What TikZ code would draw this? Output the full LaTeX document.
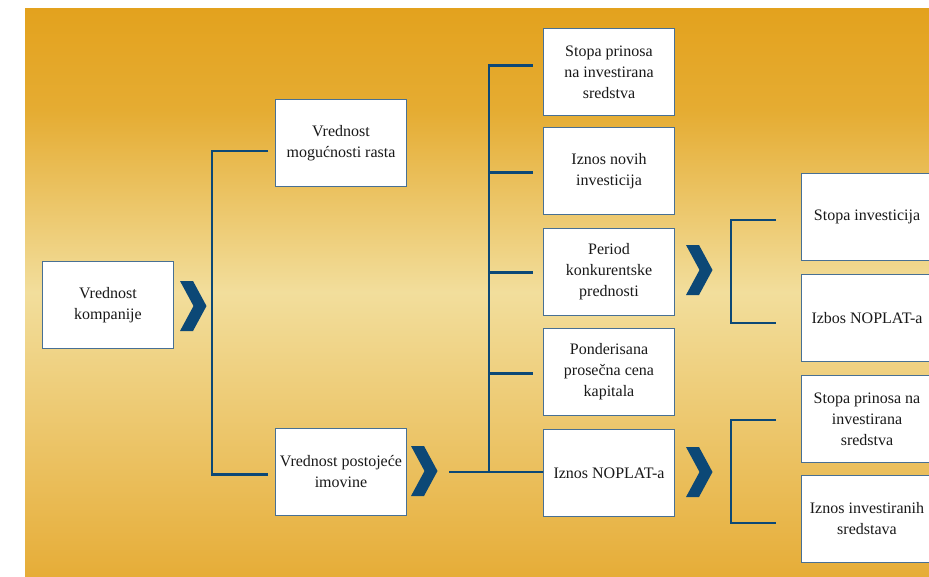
\documentclass[tikz,border=0pt]{standalone}
\usepackage{fontspec}
\setmainfont{Liberation Serif}
\usetikzlibrary{calc}
\definecolor{navy}{RGB}{12,72,118}
\definecolor{boxrim}{RGB}{72,112,148}
\definecolor{ink}{RGB}{25,25,25}
\definecolor{goldA}{RGB}{227,162,30}
\definecolor{goldB}{RGB}{229,172,50}
\definecolor{goldC}{RGB}{242,222,156}
\definecolor{goldD}{RGB}{230,173,56}

\begin{document}
\begin{tikzpicture}[x=1pt,y=-1pt,
  box/.style={draw=boxrim, line width=1pt, fill=white, anchor=north west,
    minimum width=131pt, minimum height=87pt, inner sep=2pt, align=center,
    text=ink, font=\fontsize{16}{21}\selectfont},
  link/.style={draw=navy, line width=2.6pt},
  chev/.pic={\fill[navy] (0,0) -- (13,0) -- (26.5,25) -- (13,50) -- (0,50) -- (13.5,25) -- cycle;}]

\useasboundingbox (0,0) rectangle (929,576);
\fill[white] (0,0) rectangle (929,576);

% golden background, lighter towards the middle
\shade[top color=goldA, bottom color=goldB] (25,8) rectangle (929,110.5);
\shade[top color=goldB, bottom color=goldC] (25,110) rectangle (929,292.5);
\shade[top color=goldC, bottom color=goldD] (25,292) rectangle (929,576);

% first level
\node[box] (firm) at (42,261) {Vrednost\\kompanije};

% second level
\node[box] (grow) at (275,99) {Vrednost\\mogućnosti rasta};
\node[box] (asset) at (275,428) {Vrednost postojeće\\imovine};

% value drivers
\node[box] (m1) at (543,28) {Stopa prinosa\\na investirana\\sredstva};
\node[box] (m2) at (543,127) {Iznos novih\\investicija};
\node[box] (m3) at (543,228) {Period\\konkurentske\\prednosti};
\node[box] (m4) at (543,328) {Ponderisana\\prosečna cena\\kapitala};
\node[box] (m5) at (543,429) {Iznos NOPLAT-a};

% breakdown on the right
\node[box] (r1) at (801,173) {Stopa investicija};
\node[box] (r2) at (801,274) {Izbos NOPLAT-a};
\node[box] (r3) at (801,375) {Stopa prinosa na\\investirana\\sredstva};
\node[box] (r4) at (801,475) {Iznos investiranih\\sredstava};

% chevrons
\pic at (180,281) {chev};
\pic at (411,446) {chev};
\pic at (686,245) {chev};
\pic at (686,447) {chev};

% bracket: company value
\draw[link] ($(grow.west)+(-7,8)$) -- ++(-56,0) |- ($(asset.west)+(-7,2.5)$);

% bracket: value drivers
\coordinate (hub) at ($(asset.east)+(82,0)$);
\draw[link] ($(asset.east)+(42,0)$) -- (hub) -- (hub -| m5.west) -- ++(-10,0);
\draw[link] (hub) |- ($(m1.west)+(-10,-6.5)$);
\draw[link] (hub |- m2.west) ++(0,1.5) -- ($(m2.west)+(-10,1.5)$);
\draw[link] (hub |- m3.west) ++(0,0.5) -- ($(m3.west)+(-10,0.5)$);
\draw[link] (hub |- m4.west) ++(0,1.5) -- ($(m4.west)+(-10,1.5)$);

% brackets on the right
\draw[link] ($(r1.west)+(-25,3)$) -- ++(-45,0) |- ($(r2.west)+(-25,5)$);
\draw[link] ($(r3.west)+(-25,1)$) -- ++(-45,0) |- ($(r4.west)+(-25,4)$);
\end{tikzpicture}
\end{document}
